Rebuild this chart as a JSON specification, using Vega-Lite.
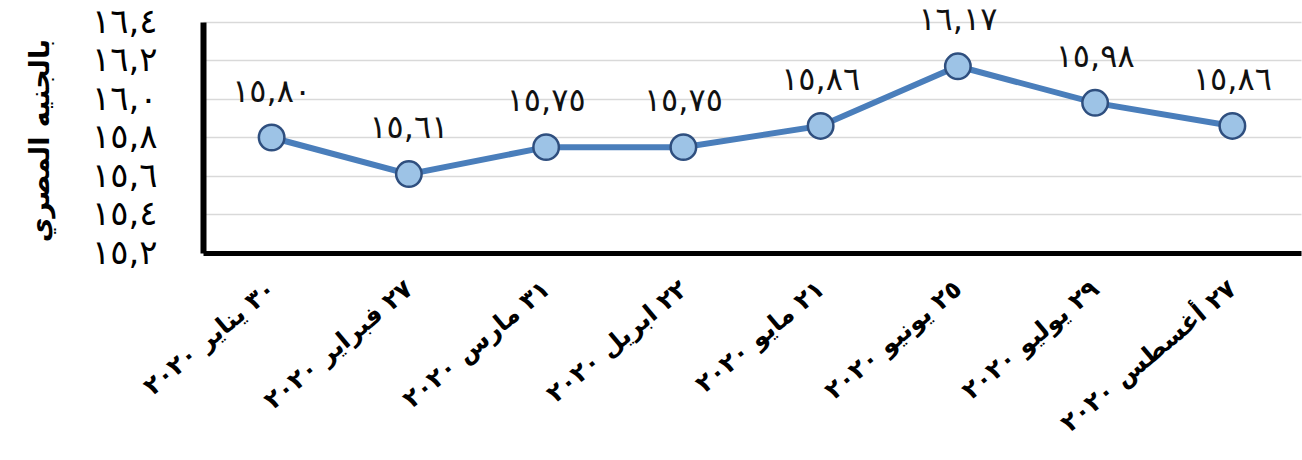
{
  "$schema": "https://vega.github.io/schema/vega-lite/v6.json",
  "autosize": {"type": "none"},
  "padding": {"left": 203, "top": 22, "right": 1, "bottom": 207},
  "width": 1098,
  "height": 231,
  "background": "white",
  "data": {
    "values": [
      {"date": "٣٠ يناير ٢٠٢٠", "value": 15.80, "lbl": "١٥,٨٠"},
      {"date": "٢٧ فبراير ٢٠٢٠", "value": 15.61, "lbl": "١٥,٦١"},
      {"date": "٣١ مارس ٢٠٢٠", "value": 15.75, "lbl": "١٥,٧٥"},
      {"date": "٢٢ ابريل ٢٠٢٠", "value": 15.75, "lbl": "١٥,٧٥"},
      {"date": "٢١ مايو ٢٠٢٠", "value": 15.86, "lbl": "١٥,٨٦"},
      {"date": "٢٥ يونيو ٢٠٢٠", "value": 16.17, "lbl": "١٦,١٧"},
      {"date": "٢٩ يوليو ٢٠٢٠", "value": 15.98, "lbl": "١٥,٩٨"},
      {"date": "٢٧ أغسطس ٢٠٢٠", "value": 15.86, "lbl": "١٥,٨٦"}
    ]
  },
  "encoding": {
    "x": {
      "field": "date",
      "type": "nominal",
      "sort": null,
      "scale": {"paddingInner": 0, "paddingOuter": 0.5},
      "axis": {
        "title": null,
        "labelAngle": -40,
        "labelAlign": "right",
        "labelBaseline": "middle",
        "labelFont": "DejaVu Sans",
        "labelFontSize": 25,
        "labelFontWeight": "bold",
        "labelColor": "black",
        "labelPadding": 32,
        "labelLimit": 0,
        "labelOverlap": false,
        "ticks": false,
        "grid": false,
        "domainColor": "black",
        "domainWidth": 5
      }
    },
    "y": {
      "field": "value",
      "type": "quantitative",
      "scale": {"domain": [15.2, 16.4], "zero": false, "nice": false},
      "axis": {
        "values": [15.2, 15.4, 15.6, 15.8, 16.0, 16.2, 16.4],
        "labelExpr": "replace(replace(replace(replace(replace(replace(replace(replace(replace(replace(replace(format(datum.value,'.1f'),'.',','),regexp('0','g'),'٠'),regexp('1','g'),'١'),regexp('2','g'),'٢'),regexp('3','g'),'٣'),regexp('4','g'),'٤'),regexp('5','g'),'٥'),regexp('6','g'),'٦'),regexp('7','g'),'٧'),regexp('8','g'),'٨'),regexp('9','g'),'٩')",
        "labelFont": "DejaVu Sans",
        "labelFontSize": 34,
        "labelColor": "black",
        "labelPadding": 46,
        "labelOverlap": false,
        "ticks": false,
        "grid": true,
        "gridColor": "#D9D9D9",
        "gridWidth": 1.5,
        "domainColor": "black",
        "domainWidth": 6,
        "title": "بالجنيه المصري",
        "titleFont": "DejaVu Sans",
        "titleFontSize": 27,
        "titleFontWeight": "bold",
        "titleColor": "black",
        "titleAngle": -90,
        "titleX": -163,
        "titleY": 118,
        "titleAlign": "center",
        "titleBaseline": "middle",
        "titleLimit": 0
      }
    }
  },
  "layer": [
    {
      "mark": {"type": "line", "color": "#4A7EBB", "strokeWidth": 6}
    },
    {
      "mark": {"type": "point", "filled": true, "size": 650, "fill": "#9DC3E6", "stroke": "#2F4F7F", "strokeWidth": 2.5, "opacity": 1}
    },
    {
      "mark": {"type": "text", "dy": -46, "font": "DejaVu Sans", "fontSize": 32, "color": "#111111"},
      "encoding": {"text": {"field": "lbl"}}
    }
  ],
  "config": {"view": {"stroke": null}}
}
